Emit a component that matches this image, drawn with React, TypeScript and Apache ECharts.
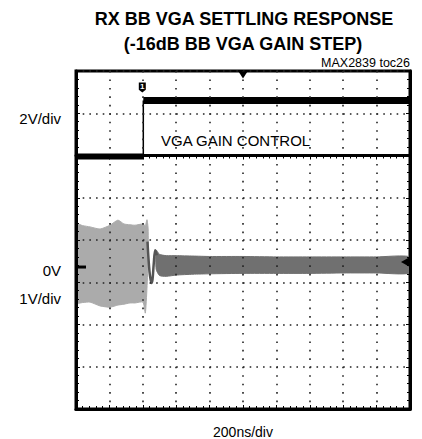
import React, { useEffect, useRef } from "react";
import * as echarts from "echarts";

// ---- data (time in ns, CH1 in V at 2V/div, CH2 in V at 1V/div) ----
const timeTicks = [0, 200, 400, 600, 800, 1000, 1200, 1400, 1600, 1800, 2000];

const ch1StepTime = 403;
const ch1LowLevel = -0.05;
const ch1HighLevel = 2.6;

const preTimes = [0, 40, 84, 144, 204, 251, 287, 323, 353, 401, 415, 425, 432];
const preUpper = [1.02, 0.98, 0.95, 0.9, 0.99, 1.11, 1.02, 1.0, 0.99, 1.02, 0.98, 1.12, 0.9];
const preLower = [-0.85, -0.84, -0.83, -0.92, -0.95, -0.9, -0.88, -0.85, -0.85, -0.83, -1.09, -0.5, 0.2];

const ringTimes = [428, 440, 452, 458, 466, 474, 484];
const ringValues = [0.6, -0.1, -0.38, -0.3, 0.1, 0.4, 0.28];

const postTimes = [480, 500, 540, 600, 700, 800, 1000, 1200, 1400, 1600, 1800, 2000];
const postUpper = [0.4, 0.3, 0.27, 0.27, 0.26, 0.25, 0.25, 0.24, 0.24, 0.24, 0.24, 0.24];
const postLower = [-0.05, -0.2, -0.22, -0.19, -0.17, -0.16, -0.15, -0.15, -0.15, -0.14, -0.14, -0.14];

const ch2Zero = 0; // CH2 ground marker
const ch2TrigLevel = 0.12; // right-side arrow

// axis ranges (divisions shown: 10 x 8)
const ch1Min = -12;
const ch1Max = 4;
const ch2Max = 4.64;
const ch2Min = -3.36;

const FONT = "'Liberation Sans', Arial, Helvetica, sans-serif";

function bandSeries(name: string, times: number[], up: number[], lo: number[], color: string) {
  return {
    name,
    type: "custom",
    xAxisIndex: 0,
    yAxisIndex: 2,
    clip: true,
    z: 2,
    data: times.map((t, i) => [t, up[i], lo[i]]),
    encode: { x: 0, y: [1, 2] },
    renderItem: (params: any, api: any) => {
      if (params.dataIndex !== 0) return null;
      const pts: number[][] = [];
      for (let i = 0; i < times.length; i++) pts.push(api.coord([times[i], up[i]]));
      for (let i = times.length - 1; i >= 0; i--) pts.push(api.coord([times[i], lo[i]]));
      return {
        type: "polygon",
        shape: { points: pts, smooth: 0.2 },
        style: { fill: color, stroke: color, lineWidth: 1 },
      };
    },
  };
}

export default function App() {
  const ref = useRef<HTMLDivElement>(null);
  useEffect(() => {
    if (!ref.current) return;
    const chart = echarts.init(ref.current, null, { renderer: "svg" });
    const dotsH = { type: [1.6, 5.08], color: "#222", width: 1.6 };
    const dotsV = { type: [1.6, 6.85], color: "#222", width: 1.6 };
    const tickAxis = {
      axisLine: { show: true, lineStyle: { color: "#000", width: 3 } },
      axisTick: { show: true, inside: true, length: 4, lineStyle: { color: "#000", width: 1 } },
      minorTick: { show: true, splitNumber: 5, length: 3, lineStyle: { color: "#000", width: 1 } },
      axisLabel: { show: false },
    };
    chart.setOption({
      animation: false,
      backgroundColor: "#fff",
      grid: {
        left: 76,
        top: 71,
        right: 12,
        bottom: 30,
        show: true,
        borderColor: "#000",
        borderWidth: 3,
        backgroundColor: "transparent",
      },
      xAxis: [
        {
          type: "value",
          min: timeTicks[0],
          max: timeTicks[timeTicks.length - 1],
          interval: 200,
          position: "bottom",
          z: 5,
          ...tickAxis,
          splitLine: { show: true, lineStyle: dotsV },
        },
        {
          type: "value",
          min: timeTicks[0],
          max: timeTicks[timeTicks.length - 1],
          interval: 200,
          position: "top",
          z: 5,
          ...tickAxis,
          splitLine: { show: false },
        },
      ],
      yAxis: [
        {
          type: "value",
          min: 0,
          max: 8,
          interval: 1,
          position: "left",
          z: 5,
          ...tickAxis,
          splitLine: { show: true, lineStyle: dotsH },
        },
        { type: "value", min: ch1Min, max: ch1Max, show: false },
        { type: "value", min: ch2Min, max: ch2Max, show: false },
        {
          type: "value",
          min: 0,
          max: 8,
          interval: 1,
          position: "right",
          z: 5,
          ...tickAxis,
          splitLine: { show: false },
        },
      ],
      series: [
        bandSeries("pre", preTimes, preUpper, preLower, "#ababab"),
        bandSeries("post", postTimes, postUpper, postLower, "#707070"),
        {
          name: "ring",
          type: "line",
          xAxisIndex: 0,
          yAxisIndex: 2,
          symbol: "none",
          smooth: 0.3,
          z: 3,
          lineStyle: { color: "#555", width: 2.5 },
          data: ringTimes.map((t, i) => [t, ringValues[i]]),
        },
        {
          name: "ch2marks",
          type: "line",
          xAxisIndex: 0,
          yAxisIndex: 2,
          symbol: "none",
          lineStyle: { opacity: 0 },
          data: [[timeTicks[0], ch2Zero]],
          markPoint: {
            silent: true,
            label: { show: false },
            data: [
              {
                coord: [timeTicks[0], ch2Zero],
                symbol: "rect",
                symbolSize: [10, 3],
                symbolOffset: [5, 0],
                itemStyle: { color: "#000" },
              },
              {
                coord: [timeTicks[timeTicks.length - 1], ch2TrigLevel],
                symbol: "triangle",
                symbolRotate: 90,
                symbolSize: [9, 8],
                symbolOffset: [-5, 0],
                itemStyle: { color: "#000" },
              },
            ],
          },
        },
        {
          name: "ch1low",
          type: "line",
          xAxisIndex: 0,
          yAxisIndex: 1,
          symbol: "none",
          z: 4,
          lineStyle: { color: "#000", width: 6, cap: "butt" },
          data: [
            [timeTicks[0], ch1LowLevel],
            [ch1StepTime, ch1LowLevel],
          ],
        },
        {
          name: "ch1edge",
          type: "line",
          xAxisIndex: 0,
          yAxisIndex: 1,
          symbol: "none",
          z: 4,
          lineStyle: { color: "#000", width: 1.5 },
          data: [
            [ch1StepTime, ch1LowLevel],
            [ch1StepTime, ch1HighLevel],
          ],
        },
        {
          name: "ch1high",
          type: "line",
          xAxisIndex: 0,
          yAxisIndex: 1,
          symbol: "none",
          z: 4,
          lineStyle: { color: "#000", width: 7, cap: "butt" },
          data: [
            [ch1StepTime, ch1HighLevel],
            [timeTicks[timeTicks.length - 1], ch1HighLevel],
          ],
          markPoint: {
            silent: true,
            data: [
              {
                coord: [ch1StepTime, ch1HighLevel],
                symbol: "path://M0,0 L8,0 L8,8 L4,11 L0,8 Z",
                symbolSize: [7, 10],
                symbolOffset: [-1, -13],
                itemStyle: { color: "#000" },
                label: {
                  show: true,
                  formatter: "1",
                  color: "#fff",
                  fontSize: 8,
                  fontWeight: "bold",
                  fontFamily: FONT,
                  offset: [0, -1],
                },
              },
              {
                coord: [timeTicks[5], ch1Max],
                symbol: "triangle",
                symbolRotate: 180,
                symbolSize: [9, 7],
                symbolOffset: [0, 4],
                itemStyle: { color: "#000" },
                label: { show: false },
              },
            ],
          },
        },
      ],
      graphic: [
        {
          type: "text",
          x: 244,
          y: 19,
          style: {
            text: "RX BB VGA SETTLING RESPONSE",
            font: `bold 18px ${FONT}`,
            fill: "#000",
            textAlign: "center",
            textVerticalAlign: "middle",
          },
        },
        {
          type: "text",
          x: 243,
          y: 44,
          style: {
            text: "(-16dB BB VGA GAIN STEP)",
            font: `bold 18px ${FONT}`,
            fill: "#000",
            textAlign: "center",
            textVerticalAlign: "middle",
          },
        },
        {
          type: "text",
          x: 410,
          y: 63,
          style: {
            text: "MAX2839 toc26",
            font: `12.5px ${FONT}`,
            fill: "#000",
            textAlign: "right",
            textVerticalAlign: "middle",
          },
        },
        {
          type: "text",
          x: 161,
          y: 140,
          style: {
            text: "VGA GAIN CONTROL",
            font: `15px ${FONT}`,
            fill: "#000",
            textAlign: "left",
            textVerticalAlign: "middle",
          },
        },
        {
          type: "text",
          x: 61,
          y: 118,
          style: { text: "2V/div", font: `15px ${FONT}`, fill: "#000", textAlign: "right", textVerticalAlign: "middle" },
        },
        {
          type: "text",
          x: 61,
          y: 270,
          style: { text: "0V", font: `15px ${FONT}`, fill: "#000", textAlign: "right", textVerticalAlign: "middle" },
        },
        {
          type: "text",
          x: 61,
          y: 298,
          style: { text: "1V/div", font: `15px ${FONT}`, fill: "#000", textAlign: "right", textVerticalAlign: "middle" },
        },
        {
          type: "text",
          x: 243,
          y: 432,
          style: { text: "200ns/div", font: `14px ${FONT}`, fill: "#000", textAlign: "center", textVerticalAlign: "middle" },
        },
      ],
    });
    return () => chart.dispose();
  }, []);
  return (
    <div
      ref={ref}
      style={{ position: "fixed", left: 0, top: 0, width: 422, height: 439, background: "#fff" }}
    />
  );
}
